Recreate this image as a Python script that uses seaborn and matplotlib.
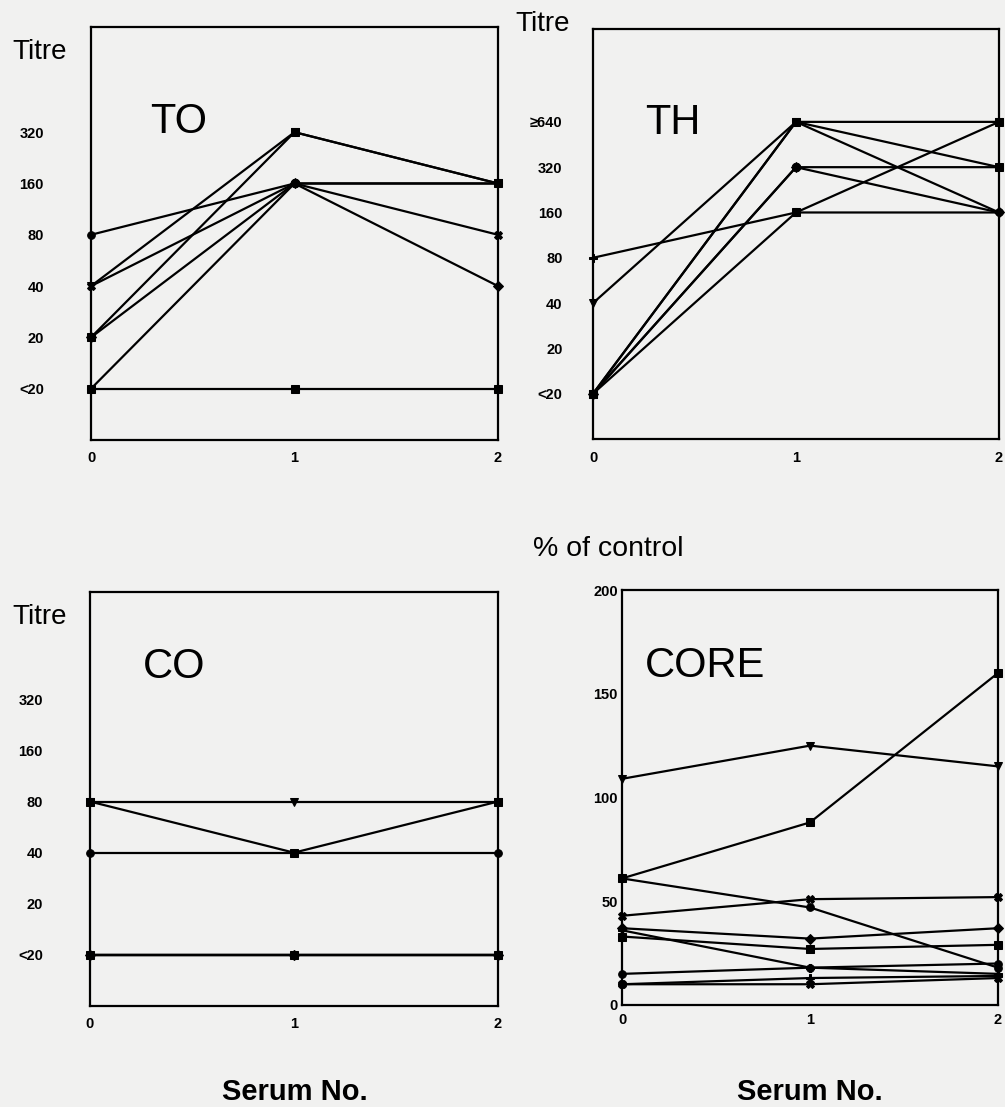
import matplotlib
matplotlib.use("Agg")
import matplotlib.pyplot as plt
import numpy as np
import pandas as pd
import seaborn as sns

# ---------------- data ----------------
serum_no = [0, 1, 2]

titre_levels = ["<20", "20", "40", "80", "160", "320"]
titre_levels_th = ["<20", "20", "40", "80", "160", "320", "\u2265640"]

# TO antigen titres (one list per individual, serum 0,1,2)
to_titres = [
    ["40", "320", "160"],
    ["20", "320", "160"],
    ["80", "160", "160"],
    ["40", "160", "80"],
    ["20", "160", "40"],
    ["<20", "160", "160"],
    ["<20", "<20", "<20"],
]

# TH antigen titres
th_titres = [
    ["40", "\u2265640", "\u2265640"],
    ["<20", "\u2265640", "320"],
    ["<20", "\u2265640", "160"],
    ["<20", "320", "320"],
    ["<20", "320", "160"],
    ["80", "160", "160"],
    ["<20", "160", "\u2265640"],
]

# CO antigen titres
co_titres = [
    ["80", "80", "80"],
    ["80", "40", "80"],
    ["40", "40", "40"],
    ["<20", "<20", "<20"],
    ["<20", "<20", "<20"],
    ["<20", "<20", "<20"],
    ["<20", "<20", "<20"],
]

# CORE ELISA, % of control
core_pct = [
    [109, 125, 115],
    [61, 88, 160],
    [61, 47, 18],
    [43, 51, 52],
    [37, 32, 37],
    [36, 18, 15],
    [33, 27, 29],
    [15, 18, 20],
    [10, 10, 13],
    [10, 13, 14],
]

core_ticks = [0, 50, 100, 150, 200]

# ---------------- style ----------------
sns.set_style("white")
plt.rcParams["font.family"] = ["Liberation Sans", "DejaVu Sans"]
plt.rcParams["text.color"] = "black"
plt.rcParams["axes.labelcolor"] = "black"
plt.rcParams["xtick.color"] = "black"
plt.rcParams["ytick.color"] = "black"
BG = "#f1f1f0"

W, H = 1005, 1107
fig = plt.figure(figsize=(W / 100, H / 100), dpi=100, facecolor=BG)


def px_axes(x0, y0, x1, y1):
    return fig.add_axes([x0 / W, 1 - y1 / H, (x1 - x0) / W, (y1 - y0) / H])


marker_cycle = ["v", "s", "o", "X", "D", "P", "s", "o", "X", "P"]


def long_df(rows, levels=None):
    recs = []
    for i, r in enumerate(rows):
        for s, v in zip(serum_no, r):
            val = levels.index(v) if levels is not None else v
            recs.append({"id": f"p{i}", "serum": s, "val": val})
    return pd.DataFrame(recs)


def draw(ax, df, n, ms=5.5):
    sns.lineplot(
        data=df, x="serum", y="val", hue="id", style="id",
        palette=["black"] * n, markers=marker_cycle[:n], dashes=False,
        estimator=None, legend=False, ax=ax, linewidth=1.6,
        markersize=ms, markeredgecolor="black", clip_on=False,
    )
    ax.set_facecolor(BG)
    for sp in ax.spines.values():
        sp.set_visible(True)
        sp.set_color("black")
        sp.set_linewidth(1.6)
    ax.set_xlim(0, 2)
    ax.set_xticks(serum_no)
    ax.set_xticklabels([str(s) for s in serum_no], fontsize=10.5, fontweight="bold")
    ax.set_xlabel("")
    ax.set_ylabel("")
    ax.tick_params(length=0)


# TO
ax1 = px_axes(91, 27, 498, 440)
draw(ax1, long_df(to_titres, titre_levels), len(to_titres))
ax1.set_ylim(-1, 7.05)
ax1.set_yticks(range(len(titre_levels)))
ax1.set_yticklabels(titre_levels, fontsize=10.5, fontweight="bold")
ax1.tick_params(axis="y", pad=34)
ax1.tick_params(axis="x", pad=8)

# TH
ax2 = px_axes(593, 29, 999, 439)
draw(ax2, long_df(th_titres, titre_levels_th), len(th_titres))
ax2.set_ylim(-1, 8.05)
ax2.set_yticks(range(len(titre_levels_th)))
ax2.set_yticklabels(titre_levels_th, fontsize=10.5, fontweight="bold")
ax2.tick_params(axis="y", pad=22)
ax2.tick_params(axis="x", pad=9)

# CO
ax3 = px_axes(90, 592, 498, 1006)
draw(ax3, long_df(co_titres, titre_levels), len(co_titres))
ax3.set_ylim(-1, 7.1)
ax3.set_yticks(range(len(titre_levels)))
ax3.set_yticklabels(titre_levels, fontsize=10.5, fontweight="bold")
ax3.tick_params(axis="y", pad=34)
ax3.tick_params(axis="x", pad=8)

# CORE
ax4 = px_axes(622, 590, 998, 1005)
draw(ax4, long_df(core_pct), len(core_pct))
ax4.set_ylim(0, 200)
ax4.set_yticks(core_ticks)
ax4.set_yticklabels([str(t) for t in core_ticks], fontsize=10.5, fontweight="bold")
ax4.tick_params(axis="y", pad=3)
ax4.tick_params(axis="x", pad=6)

# ---------------- texts ----------------
def ftext(x, y, s, **kw):
    fig.text(x / W, 1 - y / H, s, va="center", color="black", **kw)

ftext(12, 52, "Titre", fontsize=20, ha="left")
ftext(515, 24, "Titre", fontsize=20, ha="left")
ftext(12, 617, "Titre", fontsize=20, ha="left")
ftext(533, 549, "% of control", fontsize=20.5, ha="left")

ftext(150, 122, "TO", fontsize=30, ha="left")
ftext(645, 123, "TH", fontsize=30, ha="left")
ftext(143, 667, "CO", fontsize=30, ha="left")
ftext(645, 666, "CORE", fontsize=30, ha="left")

ftext(295, 1092, "Serum No.", fontsize=21, fontweight="bold", ha="center")
ftext(810, 1092, "Serum No.", fontsize=21, fontweight="bold", ha="center")

fig.savefig("out.png", dpi=100, facecolor=BG)
